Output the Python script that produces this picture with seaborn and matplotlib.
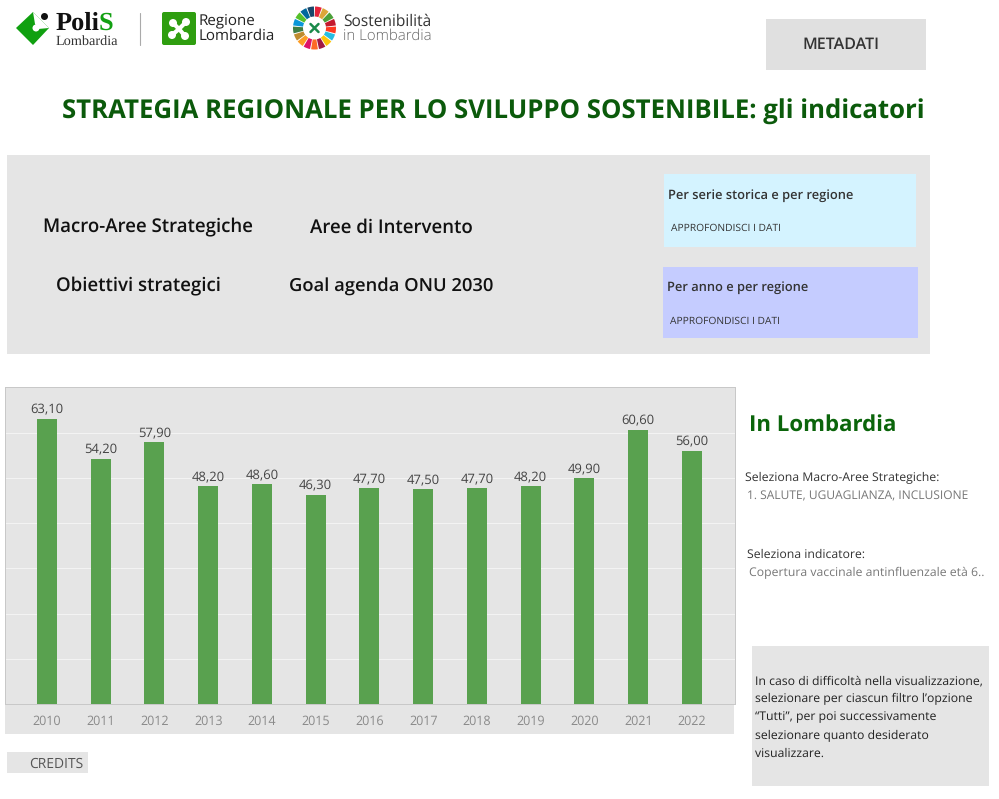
import matplotlib
matplotlib.use('Agg')
import matplotlib.pyplot as plt
from matplotlib.patches import Rectangle, Wedge, Circle, Polygon, FancyBboxPatch
import pandas as pd
import seaborn as sns

years = ['2010', '2011', '2012', '2013', '2014', '2015', '2016',
         '2017', '2018', '2019', '2020', '2021', '2022']
values = [63.1, 54.2, 57.9, 48.2, 48.6, 46.3, 47.7, 47.5, 47.7, 48.2, 49.9, 60.6, 56.0]
sdg_colors = ['#e5243b', '#dda63a', '#4c9f38', '#c5192d', '#ff3a21', '#26bde2', '#fcc30b',
              '#a21942', '#fd6925', '#dd1367', '#fd9d24', '#bf8b2e', '#3f7e44', '#0a97d9',
              '#56c02b', '#00689d', '#19486a']

W, H = 999, 799
GREY = '#e5e5e5'
DARK_GREEN = '#0b5a0b'
BAR_GREEN = '#59a14f'


def main():
    sns.set_theme(style='white')
    plt.rcParams['font.family'] = ['Open Sans', 'DejaVu Sans']
    plt.rcParams['text.hinting'] = 'no_hinting'  # keeps text widths proportional to font size
    fig = plt.figure(figsize=(W / 100, H / 100), dpi=100)
    page = fig.add_axes([0, 0, 1, 1])
    page.set_xlim(0, W)
    page.set_ylim(H, 0)
    page.axis('off')
    draw_page(page)
    draw_logos(page)
    draw_chart(fig)
    fig.savefig('out.png', dpi=100)


def box(ax, x0, y0, x1, y1, color):
    ax.add_patch(Rectangle((x0, y0), x1 - x0, y1 - y0, color=color, lw=0))


def draw_page(ax):
    box(ax, 766, 19, 926, 70, '#e0e0e0')
    ax.text(841, 45, 'METADATI', ha='center', va='center', fontsize=11.5, weight='semibold', color='#333333')
    ax.text(925, 112, 'STRATEGIA REGIONALE PER LO SVILUPPO SOSTENIBILE: gli indicatori', ha='right',
            va='center', fontsize=18.5, weight='bold', color=DARK_GREEN)

    box(ax, 7, 155, 930, 354, GREY)
    for x, y, size, label in [(148, 232.5, 13.4, 'Macro-Aree Strategiche'), (391, 232.5, 13.4, 'Aree di Intervento'),
                              (138, 291.5, 13.4, 'Obiettivi strategici'), (391, 291.5, 13.2, 'Goal agenda ONU 2030')]:
        ax.text(x, y, label, ha='center', va='baseline', fontsize=size, weight='semibold', color='#111111')

    box(ax, 664, 174, 916, 247, '#d4f3ff')
    ax.text(668, 196, 'Per serie storica e per regione', va='center', fontsize=9.25, weight='semibold', color='#333333')
    ax.text(671, 228, 'APPROFONDISCI I DATI', va='center', fontsize=7.4, color='#333333')
    box(ax, 663, 267, 918, 338, '#c5ccff')
    ax.text(667, 287, 'Per anno e per regione', va='center', fontsize=9.25, weight='semibold', color='#333333')
    ax.text(670, 321, 'APPROFONDISCI I DATI', va='center', fontsize=7.4, color='#333333')

    box(ax, 5, 704, 734, 734, GREY)
    box(ax, 7, 752, 88, 773, GREY)
    ax.text(56, 764, 'CREDITS', ha='center', va='center', fontsize=10, color='#555555')

    ax.text(749, 425, 'In Lombardia', va='center', fontsize=16, weight='bold', color='#0b650b')
    ax.text(745, 478, 'Seleziona Macro-Aree Strategiche:', va='center', fontsize=8.8, color='#333333')
    ax.text(747, 496, '1. SALUTE, UGUAGLIANZA, INCLUSIONE', va='center', fontsize=8.65, color='#777777')
    ax.text(747, 555, 'Seleziona indicatore:', va='center', fontsize=8.8, color='#333333')
    ax.text(749, 573, 'Copertura vaccinale antinfluenzale età 6..', va='center', fontsize=8.8, color='#777777')

    box(ax, 752, 646, 989, 786, GREY)
    note = ['In caso di difficoltà nella visualizzazione,', 'selezionare per ciascun filtro l’opzione',
            '“Tutti”, per poi successivamente', 'selezionare quanto desiderato', 'visualizzare.']
    for i, line in enumerate(note):
        ax.text(755, 681 + i * 18.2, line, va='center', fontsize=8.8, color='#222222')


def draw_logos(ax):
    # PoliS
    ax.add_patch(Polygon([(16, 28), (33, 12), (49, 28), (33, 45)], color='#10a010', lw=0))
    ax.add_patch(Polygon([(33, 12), (49, 28), (38, 29), (35, 24)], color='white', lw=0))
    ax.add_patch(Circle((36, 28), 3.5, color='white', lw=0))
    ax.add_patch(Circle((44.5, 16.5), 3.5, color='#111111', lw=0))
    ax.text(56, 23.5, 'Poli', va='center', fontsize=19, weight='bold', family='Liberation Serif', color='#111111')
    ax.text(99, 23.5, 'S', va='center', fontsize=19, weight='bold', family='Liberation Serif', color='#12a012')
    ax.text(56, 41.5, 'Lombardia', va='center', fontsize=10.3, family='Liberation Serif', color='#333333')
    ax.plot([140, 140], [13, 45], color='#aaaaaa', lw=0.8)

    # Regione Lombardia
    ax.add_patch(FancyBboxPatch((163, 13), 32, 31, boxstyle='round,pad=1,rounding_size=2', color='#2f9e10', lw=0))
    for dx, dy in [(-6, -6), (7, -7), (-7, 6), (6, 7)]:
        ax.plot([179, 179 + dx], [29, 29 + dy], color='white', lw=3)
        ax.add_patch(Circle((179 + dx, 29 + dy), 4, color='white', lw=0))
    ax.text(199, 20.5, 'Regione', va='center', fontsize=10.9, weight='medium', color='#222222')
    ax.text(199, 35.5, 'Lombardia', va='center', fontsize=10.9, weight='medium', color='#222222')

    # Sostenibilita wheel
    step = 360 / len(sdg_colors)
    for i, color in enumerate(sdg_colors):
        start = -90 + i * step
        ax.add_patch(Wedge((314.5, 28), 21.5, start + 1.5, start + step - 1.5, width=10, color=color, lw=0))
    for dx, dy in [(-4, -4), (4, -4), (-4, 4), (4, 4)]:
        ax.plot([314.5, 314.5 + dx], [28, 28 + dy], color='#1a8a4a', lw=1.8)
    ax.text(343, 21.5, 'Sostenibilità', va='center', fontsize=11.2, color='#333333')
    ax.text(343, 36, 'in Lombardia', va='center', fontsize=10.8, weight='light', color='#666666')


def draw_chart(fig):
    ax = fig.add_axes([5 / W, 1 - 704.3 / H, 730 / W, 317 / H])
    data = pd.DataFrame({'year': years, 'value': values})
    sns.barplot(data=data, x='year', y='value', color=BAR_GREEN, saturation=1, width=0.372,
                linewidth=0, edgecolor='none', ax=ax, zorder=3)
    ax.set_facecolor(GREY)
    ax.set_xlim(-0.78, 12.8)
    ax.set_ylim(0, 70)
    ax.set_yticks(range(0, 70, 10))
    ax.set_yticklabels([])
    ax.grid(axis='y', color='#f3f3f3', lw=0.72, zorder=1)
    ax.tick_params(axis='both', length=0)
    ax.tick_params(axis='x', labelsize=9, labelcolor='#8a8a8a', pad=8)
    ax.set_xlabel('')
    ax.set_ylabel('')
    for side in ax.spines.values():
        side.set_color('#c8c8c8')
        side.set_linewidth(0.72)
    for i, v in enumerate(values):
        ax.annotate(f'{v:.2f}'.replace('.', ','), (i, v), xytext=(0, 1.5), textcoords='offset points',
                    ha='center', va='bottom', fontsize=9.4, color='#444444')


if __name__ == '__main__':
    main()
